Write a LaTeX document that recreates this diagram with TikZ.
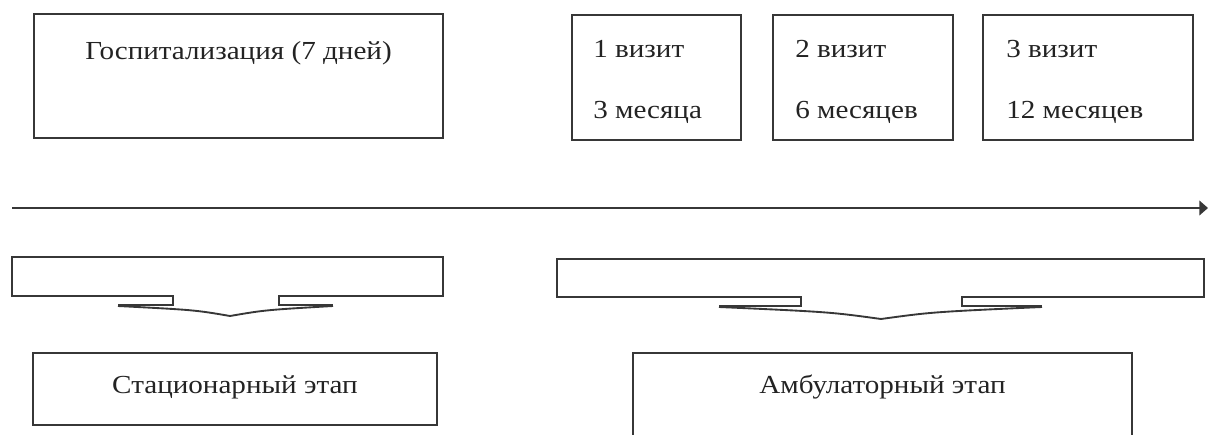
\documentclass[tikz,border=0pt]{standalone}
\usepackage{fontspec}
\setmainfont{Liberation Serif}[FakeStretch=1.12]
\usetikzlibrary{arrows.meta}
\definecolor{ink}{RGB}{55,55,55}
\definecolor{tink}{RGB}{35,35,35}
\begin{document}
\begin{tikzpicture}[x=0.75pt,y=-0.75pt,
  boxst/.style={draw=ink, line width=1.4pt, inner sep=0pt, rectangle},
  txt/.style={text=tink, font=\fontsize{19.5}{22}\selectfont, inner sep=0pt},
  shp/.style={draw=ink, line width=1.4pt, line join=miter}]
\useasboundingbox (0,0) rectangle (1208,435);
\clip (0,0) rectangle (1208,435);
% top boxes
\node[boxst, minimum width=409*0.75pt, minimum height=124*0.75pt] (gosp) at (238.5,76) {};
\node[txt, anchor=base] (gosptxt) at (238.5,60) {Госпитализация (7 дней)};
\node[boxst, minimum width=169*0.75pt, minimum height=125*0.75pt] (v1) at (656.5,77.5) {};
\node[boxst, minimum width=180*0.75pt, minimum height=125*0.75pt] (v2) at (863,77.5) {};
\node[boxst, minimum width=210*0.75pt, minimum height=125*0.75pt] (v3) at (1088,77.5) {};
\node[txt, anchor=base west] (v1a) at (593,58) {1 визит};
\node[txt, anchor=base west] (v1b) at (593,118) {3 месяца};
\node[txt, anchor=base west] (v2a) at (795,58) {2 визит};
\node[txt, anchor=base west] (v2b) at (795,118) {6 месяцев};
\node[txt, anchor=base west] (v3a) at (1006,58) {3 визит};
\node[txt, anchor=base west] (v3b) at (1006,118) {12 месяцев};
% time axis
\coordinate (axs) at (12,208);
\coordinate (axe) at (1208,208);
\draw[ink, line width=1.4pt, -{Triangle[length=6.5pt,width=11pt]}] (axs) -- (axe);
% brace 1
\draw[shp] (118,305) -- (173,305) -- (173,296) -- (12,296) -- (12,257) -- (443,257) -- (443,296) -- (279,296) -- (279,305) -- (333,305);
\draw[shp] (118,306) .. controls (195,310) .. (230,316) .. controls (265,310) .. (333,306);
% brace 2
\draw[shp] (719,306) -- (801,306) -- (801,297) -- (557,297) -- (557,259) -- (1204,259) -- (1204,297) -- (962,297) -- (962,306) -- (1042,306);
\draw[shp] (719,307) .. controls (830,312) .. (881,319) .. controls (932,312) .. (1042,307);
% bottom boxes
\node[boxst, minimum width=404*0.75pt, minimum height=72*0.75pt] (stac) at (235,389) {};
\node[txt, anchor=base] (stactxt) at (235,393) {Стационарный этап};
\node[boxst, minimum width=499*0.75pt, minimum height=160*0.75pt] (amb) at (882.5,433) {};
\node[txt, anchor=base] (ambtxt) at (882.5,393) {Амбулаторный этап};
\end{tikzpicture}
\end{document}
